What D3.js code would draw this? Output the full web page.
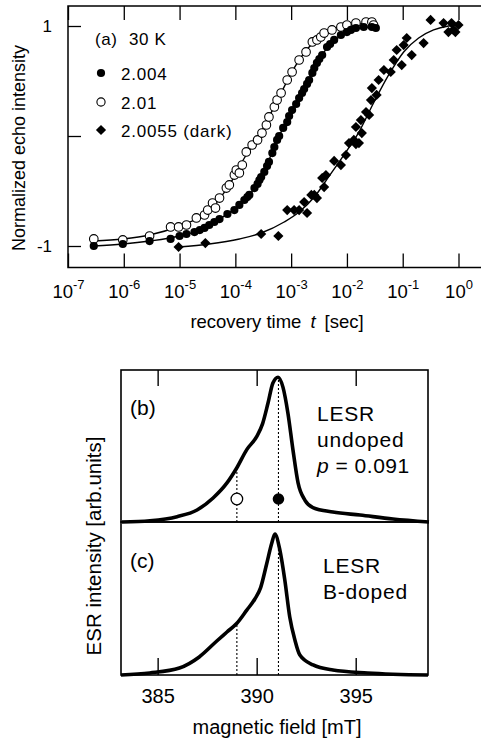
<!DOCTYPE html>
<html><head><meta charset="utf-8">
<script src="https://cdn.jsdelivr.net/npm/d3@7"></script>
<style>
html,body{margin:0;padding:0;background:#fff;}
svg{display:block;}
text{font-family:"Liberation Sans",Arial,Helvetica,sans-serif;fill:#000;}
</style></head><body>
<svg id="chart" width="481" height="743"></svg>
<script>
// ================= Panel (a): recovery time t [sec] vs normalized echo intensity
const t2004 = [2.9e-7,9.6e-7,2.9e-6,6.9e-6,1.0e-5,1.33e-5,1.85e-5,2.3e-5,2.8e-5,3.4e-5,4.2e-5,5.2e-5,7.2e-5,9.6e-5,1.18e-4,1.45e-4,1.64e-4,1.78e-4,2.2e-4,2.5e-4,2.7e-4,2.9e-4,3.3e-4,3.7e-4,4.0e-4,4.6e-4,5.0e-4,5.6e-4,6.1e-4,7.2e-4,8.5e-4,9.2e-4,1.04e-3,1.23e-3,1.39e-3,1.57e-3,1.71e-3,1.93e-3,2.1e-3,2.4e-3,2.6e-3,2.9e-3,3.2e-3,3.6e-3,4.4e-3,5.0e-3,5.9e-3,7.8e-3,1.0e-2,1.18e-2,1.45e-2,2.0e-2,2.8e-2,3.3e-2];
const y2004 = [-1.0,-0.982,-0.955,-0.936,-0.909,-0.891,-0.873,-0.855,-0.836,-0.809,-0.782,-0.755,-0.709,-0.673,-0.627,-0.582,-0.555,-0.536,-0.473,-0.436,-0.4,-0.373,-0.327,-0.273,-0.236,-0.155,-0.1,-0.036,0.0,0.073,0.127,0.182,0.236,0.291,0.345,0.391,0.427,0.473,0.509,0.573,0.618,0.664,0.7,0.736,0.809,0.836,0.873,0.918,0.945,0.964,0.982,0.991,0.991,0.982];

const t201 = [2.9e-7,9.6e-7,2.9e-6,6.9e-6,9.6e-6,1.33e-5,2.0e-5,2.8e-5,3.2e-5,3.9e-5,4.4e-5,5.2e-5,6.9e-5,7.8e-5,9.6e-5,1.04e-4,1.18e-4,1.33e-4,1.57e-4,2.0e-4,2.5e-4,3.0e-4,3.6e-4,4.0e-4,5.0e-4,5.6e-4,6.6e-4,8.5e-4,1.04e-3,1.39e-3,1.85e-3,2.4e-3,2.9e-3,3.4e-3,3.9e-3,5.4e-3,7.8e-3,1.0e-2,1.45e-2,2.2e-2,2.8e-2,3.0e-2];
const y201 = [-0.936,-0.945,-0.909,-0.827,-0.827,-0.809,-0.745,-0.718,-0.673,-0.609,-0.655,-0.564,-0.473,-0.445,-0.355,-0.309,-0.336,-0.264,-0.145,-0.082,-0.036,0.027,0.1,0.173,0.264,0.327,0.391,0.509,0.582,0.691,0.764,0.855,0.873,0.9,0.936,0.964,0.991,1.009,1.027,1.036,1.036,1.009];

const t20055 = [9.6e-6,2.9e-5,2.9e-4,5.9e-4,8.5e-4,1.13e-3,1.39e-3,1.93e-3,1.71e-3,2.3e-3,2.9e-3,2.6e-3,3.6e-3,4.2e-3,3.9e-3,5.9e-3,7.8e-3,9.6e-3,1.09e-2,1.45e-2,1.33e-2,1.64e-2,1.85e-2,1.45e-2,1.78e-2,2.5e-2,2.2e-2,2.7e-2,3.4e-2,2.8e-2,3.7e-2,4.6e-2,6.1e-2,6.9e-2,7.8e-2,9.6e-2,0.145,0.237,0.118,0.104,0.316,0.54,0.75,1.0,0.66,0.88,0.81];
const y20055 = [-1.009,-0.973,-0.891,-0.909,-0.673,-0.673,-0.673,-0.7,-0.6,-0.536,-0.564,-0.536,-0.382,-0.355,-0.464,-0.227,-0.264,-0.173,-0.064,-0.073,-0.036,-0.064,0.027,0.082,0.145,0.191,0.218,0.327,0.373,0.436,0.509,0.6,0.582,0.691,0.782,0.645,0.736,0.845,0.891,0.827,1.055,1.027,1.027,1.009,0.945,0.945,0.964];

// fitted curves
const fitT2004 = [2.9e-7,9.6e-7,2.9e-6,1.0e-5,2.3e-5,5.2e-5,1.18e-4,2.2e-4,4.0e-4,5.0e-4,6.1e-4,9.2e-4,1.39e-3,2.1e-3,2.9e-3,3.9e-3,5.2e-3,7.2e-3,1.09e-2,1.64e-2,3.4e-2];
const fitY2004 = [-1,-0.982,-0.955,-0.909,-0.855,-0.755,-0.627,-0.473,-0.218,-0.1,0.0,0.173,0.345,0.509,0.655,0.764,0.836,0.9,0.955,0.982,0.991];
const fitT201 = [2.9e-7,9.6e-7,2.9e-6,1.0e-5,2.3e-5,4.2e-5,7.8e-5,1.45e-4,2.5e-4,4.0e-4,6.6e-4,1.13e-3,2.1e-3,3.9e-3,8.8e-3,3.0e-2];
const fitY201 = [-0.955,-0.936,-0.9,-0.818,-0.736,-0.627,-0.445,-0.2,-0.018,0.173,0.391,0.618,0.809,0.927,1.0,1.027];
const fitT20055 = [9.6e-6,3.4e-5,1.18e-4,2.9e-4,7.5e-4,1.39e-3,2.6e-3,4.8e-3,8.8e-3,1.64e-2,3.0e-2,5.6e-2,0.104,0.193,0.358,0.66,1.0];
const fitY20055 = [-1.009,-0.982,-0.936,-0.882,-0.782,-0.691,-0.555,-0.364,-0.173,0.036,0.3,0.555,0.764,0.891,0.964,1.0,1.009];

const xTickExp = [-7,-6,-5,-4,-3,-2,-1,0];
const yTickValsA = [1,0,-1];
const yTickLabelsA = ["1","","-1"];
const legendLabels = ["2.004","2.01","2.0055 (dark)"];

// ================= Panels (b),(c): magnetic field [mT] vs ESR intensity
const fieldB = [383.2,384.61,385.98,386.99,387.8,388.5,389.0,389.5,390.0,390.3,390.57,390.82,391.08,391.33,391.58,391.83,392.09,392.44,392.84,393.85,395.22,396.88,398.7];
const intB   = [0.0,0.009,0.037,0.083,0.166,0.27,0.375,0.5,0.59,0.68,0.82,0.96,1.0,0.93,0.75,0.5,0.27,0.15,0.1,0.069,0.048,0.021,0.0];
const fieldC = [383.15,384.6,386.1,387.1,388.0,388.5,389.0,389.5,389.9,390.2,390.5,390.76,390.92,391.17,391.42,391.67,391.93,392.18,392.85,393.85,395.6,398.65];
const intC   = [0,0.014,0.048,0.124,0.235,0.295,0.355,0.445,0.52,0.6,0.76,0.904,0.968,0.858,0.652,0.398,0.24,0.137,0.069,0.034,0.014,0];
const markerFields = [389.0, 391.1];
const dotTopB = [0.375, 1.0];
const dotTopC = [0.355, 0.9];
const markerIntB = 0.159;
const fieldTicks = [385, 390, 395];

// ================= drawing
const svg = d3.select("#chart");
const SANS = '"Liberation Sans",Arial,Helvetica,sans-serif';
const SERIF = '"Liberation Serif","Times New Roman",Times,serif';

// ---- panel (a)
const A = {left:68, top:6, bottom:267.5, right:486};
const xA = d3.scaleLog().domain([1e-7, 1]).range([68, 458.5]);
const yA = d3.scaleLinear().domain([-1, 1]).range([246, 26]);
const ga = svg.append("g");

ga.append("rect").attr("x",A.left).attr("y",A.top)
  .attr("width",A.right-A.left).attr("height",A.bottom-A.top)
  .attr("fill","none").attr("stroke","#000").attr("stroke-width",1.5);

const xTickVals = xTickExp.map(e => Math.pow(10, e));
const axBot = ga.append("g").attr("transform",`translate(0,${A.bottom})`)
  .call(d3.axisBottom(xA).tickValues(xTickVals).tickSizeInner(-14).tickSizeOuter(0).tickPadding(17).tickFormat(""));
axBot.select(".domain").remove();
axBot.selectAll(".tick line").attr("stroke","#000").attr("stroke-width",1.3);
axBot.selectAll(".tick text").each(function(d,i){
  const t = d3.select(this).text(null).attr("font-size",18.5).attr("font-family",SANS).attr("fill","#000");
  t.append("tspan").text("10");
  const e = xTickExp[i];
  t.append("tspan").attr("dy","-0.68em").attr("font-size",13).text((e<0?"-":"")+Math.abs(e));
});

const axTop = ga.append("g").attr("transform",`translate(0,${A.top})`)
  .call(d3.axisTop(xA).tickValues(xTickVals).tickSizeInner(-14).tickSizeOuter(0).tickFormat(""));
axTop.select(".domain").remove();
axTop.selectAll(".tick text").remove();
axTop.selectAll(".tick line").attr("stroke","#000").attr("stroke-width",1.3);

const axLeft = ga.append("g").attr("transform",`translate(${A.left},0)`)
  .call(d3.axisLeft(yA).tickValues(yTickValsA).tickSizeInner(-13).tickSizeOuter(0).tickPadding(16)
    .tickFormat((d,i)=>yTickLabelsA[i]));
axLeft.select(".domain").remove();
axLeft.selectAll(".tick line").attr("stroke","#000").attr("stroke-width",1.3);
axLeft.selectAll(".tick text").attr("font-family",SERIF).attr("font-size",17).attr("fill","#000");

// fit lines
const lineA = d3.line().x(d=>xA(d[0])).y(d=>yA(d[1])).curve(d3.curveMonotoneX);
const zip = (a,b) => a.map((v,i)=>[v,b[i]]);
[[fitT2004,fitY2004],[fitT201,fitY201],[fitT20055,fitY20055]].forEach(([tt,yy])=>{
  ga.append("path").datum(zip(tt,yy)).attr("d",lineA)
    .attr("fill","none").attr("stroke","#000").attr("stroke-width",1.4);
});

// markers
const diamond = d3.symbol().type(d3.symbolSquare).size(52);
ga.append("g").selectAll("path").data(zip(t20055,y20055)).join("path")
  .attr("d",diamond)
  .attr("transform",d=>`translate(${xA(d[0])},${yA(d[1])}) rotate(45)`)
  .attr("fill","#000");
ga.append("g").selectAll("circle").data(zip(t201,y201)).join("circle")
  .attr("cx",d=>xA(d[0])).attr("cy",d=>yA(d[1])).attr("r",4.3)
  .attr("fill","#fff").attr("stroke","#000").attr("stroke-width",1.1);
ga.append("g").selectAll("circle").data(zip(t2004,y2004)).join("circle")
  .attr("cx",d=>xA(d[0])).attr("cy",d=>yA(d[1])).attr("r",4.1)
  .attr("fill","#000");

// legend
ga.append("text").attr("x",95).attr("y",45).attr("font-size",17).attr("letter-spacing",0.6).text("(a)");
ga.append("text").attr("x",129).attr("y",45).attr("font-size",17).attr("letter-spacing",0.6).text("30 K");
const legY = [73, 102, 130];
ga.append("circle").attr("cx",101).attr("cy",legY[0]).attr("r",4.1).attr("fill","#000");
ga.append("circle").attr("cx",101).attr("cy",legY[1]).attr("r",4.1).attr("fill","#fff").attr("stroke","#000").attr("stroke-width",1.1);
ga.append("path").attr("d",diamond).attr("transform",`translate(101,${legY[2]}) rotate(45)`).attr("fill","#000");
legendLabels.forEach((s,i)=>{
  ga.append("text").attr("x",121).attr("y",legY[i]+6.5).attr("font-size",17).attr("letter-spacing",0.8).text(s);
});

// axis titles (a)
const xt = ga.append("text").attr("x",277).attr("y",328).attr("text-anchor","middle").attr("font-size",18.5);
xt.append("tspan").text("recovery time");
xt.append("tspan").attr("dx",9).attr("font-style","italic").text("t");
xt.append("tspan").attr("dx",9).text("[sec]");
ga.append("text").attr("transform","translate(25,148) rotate(-90)").attr("text-anchor","middle")
  .attr("font-size",18).text("Normalized echo intensity");

// ---- panels (b), (c)
const L = 121, R = 428, T = 370, M = 522, B = 675;
const xB = d3.scaleLinear().domain([383.15, 398.65]).range([L, R]);
const yB = d3.scaleLinear().domain([0, 1.05]).range([M, T]);
const yC = d3.scaleLinear().domain([0, 1.05]).range([B, M]);
const gb = svg.append("g");

// dotted guide lines
markerFields.forEach((f,i)=>{
  gb.append("line").attr("x1",xB(f)).attr("x2",xB(f)).attr("y1",yB(0)).attr("y2",yB(dotTopB[i]))
    .attr("stroke","#000").attr("stroke-width",1.1).attr("stroke-dasharray","2,2");
  gb.append("line").attr("x1",xB(f)).attr("x2",xB(f)).attr("y1",yC(0)).attr("y2",yC(dotTopC[i]))
    .attr("stroke","#000").attr("stroke-width",1.1).attr("stroke-dasharray","2,2");
});

const lineB = d3.line().x(d=>xB(d[0])).y(d=>yB(d[1])).curve(d3.curveMonotoneX);
const lineC = d3.line().x(d=>xB(d[0])).y(d=>yC(d[1])).curve(d3.curveMonotoneX);
gb.append("path").datum(zip(fieldB,intB)).attr("d",lineB)
  .attr("fill","none").attr("stroke","#000").attr("stroke-width",3.6).attr("stroke-linejoin","round");
gb.append("path").datum(zip(fieldC,intC)).attr("d",lineC)
  .attr("fill","none").attr("stroke","#000").attr("stroke-width",3.6).attr("stroke-linejoin","round");

// frames
gb.append("rect").attr("x",L).attr("y",T).attr("width",R-L).attr("height",M-T)
  .attr("fill","none").attr("stroke","#000").attr("stroke-width",1.6);
gb.append("rect").attr("x",L).attr("y",M).attr("width",R-L).attr("height",B-M)
  .attr("fill","none").attr("stroke","#000").attr("stroke-width",1.6);

// markers in (b)
gb.append("circle").attr("cx",xB(markerFields[0])).attr("cy",yB(markerIntB)).attr("r",5.8)
  .attr("fill","#fff").attr("stroke","#000").attr("stroke-width",1.3);
gb.append("circle").attr("cx",xB(markerFields[1])).attr("cy",yB(markerIntB)).attr("r",5.8)
  .attr("fill","#000");

// axes
const axBT = gb.append("g").attr("transform",`translate(0,${T})`)
  .call(d3.axisTop(xB).tickValues(fieldTicks).tickSizeInner(-16).tickSizeOuter(0).tickFormat(""));
axBT.select(".domain").remove();
axBT.selectAll(".tick text").remove();
axBT.selectAll(".tick line").attr("stroke","#000").attr("stroke-width",1.4);

const axCB = gb.append("g").attr("transform",`translate(0,${B})`)
  .call(d3.axisBottom(xB).tickValues(fieldTicks).tickSizeInner(-17).tickSizeOuter(0).tickPadding(14));
axCB.select(".domain").remove();
axCB.selectAll(".tick line").attr("stroke","#000").attr("stroke-width",1.4);
axCB.selectAll(".tick text").attr("font-size",20).attr("font-family",SANS).attr("fill","#000");

// annotations
gb.append("text").attr("x",130).attr("y",415).attr("font-size",21).text("(b)");
gb.append("text").attr("x",317).attr("y",421).attr("font-size",21).attr("letter-spacing",0.8).text("LESR");
gb.append("text").attr("x",317).attr("y",447).attr("font-size",21).attr("letter-spacing",0.8).text("undoped");
const pt = gb.append("text").attr("x",317).attr("y",473).attr("font-size",21).attr("letter-spacing",0.5);
pt.append("tspan").attr("font-style","italic").text("p");
pt.append("tspan").text(" = 0.091");

gb.append("text").attr("x",130).attr("y",568).attr("font-size",21).text("(c)");
gb.append("text").attr("x",323).attr("y",573).attr("font-size",21).attr("letter-spacing",0.8).text("LESR");
gb.append("text").attr("x",323).attr("y",599).attr("font-size",21).attr("letter-spacing",0.8).text("B-doped");

gb.append("text").attr("x",277).attr("y",734).attr("text-anchor","middle").attr("font-size",20).text("magnetic field [mT]");
gb.append("text").attr("transform","translate(101,546) rotate(-90)").attr("text-anchor","middle")
  .attr("font-size",20.5).text("ESR intensity [arb.units]");
</script>
</body></html>
